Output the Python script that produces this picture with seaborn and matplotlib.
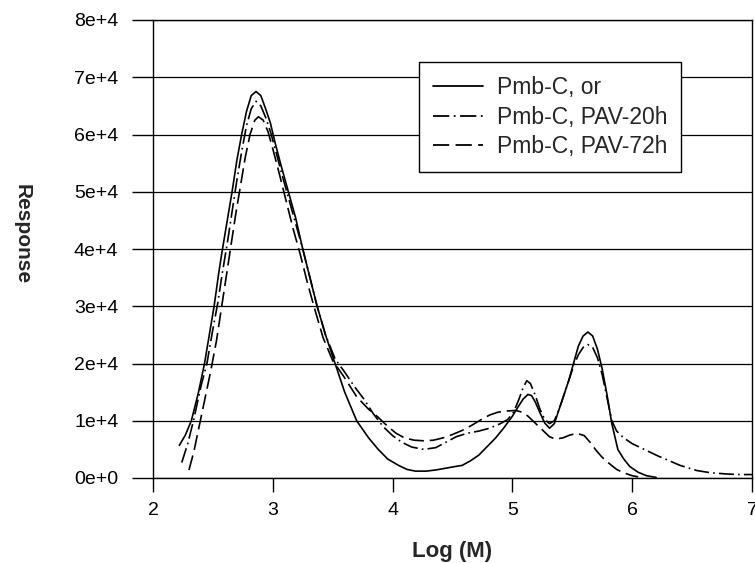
import matplotlib
matplotlib.use("Agg")
import matplotlib.pyplot as plt
import seaborn as sns
import pandas as pd

# ---------------- data ----------------
series_names = ["Pmb-C, or", "Pmb-C, PAV-20h", "Pmb-C, PAV-72h"]

x_or = [2.22, 2.27, 2.32, 2.38, 2.43, 2.47, 2.51, 2.55, 2.58, 2.62, 2.66, 2.70,
        2.74, 2.78, 2.82, 2.86, 2.90, 2.94, 2.98, 3.02, 3.07, 3.13, 3.19, 3.25,
        3.31, 3.37, 3.44, 3.52, 3.60, 3.70, 3.80, 3.88, 3.96, 4.05, 4.12, 4.19,
        4.28, 4.36, 4.44, 4.52, 4.58, 4.65, 4.72, 4.79, 4.86, 4.93, 5.00, 5.05,
        5.09, 5.13, 5.16, 5.19, 5.23, 5.27, 5.31, 5.35, 5.39, 5.43, 5.47, 5.51,
        5.55, 5.59, 5.63, 5.67, 5.71, 5.75, 5.79, 5.83, 5.88, 5.93, 5.98, 6.05,
        6.12, 6.20]
y_or = [5700, 7500, 10000, 15000, 20000, 25000, 30000, 36000, 40000, 45000,
        50000, 55500, 60000, 64000, 66800, 67500, 66800, 64500, 62000, 58500,
        54500, 50000, 45500, 40000, 35000, 30000, 25000, 20000, 15000, 10000,
        7000, 5000, 3300, 2200, 1500, 1200, 1200, 1400, 1700, 2000, 2200, 3000,
        4000, 5500, 7000, 8800, 10800, 12500, 13800, 14600, 14400, 13300, 11400,
        9600, 8700, 9500, 12000, 14500, 17000, 20000, 23000, 24800, 25500,
        24800, 22500, 19000, 14500, 9500, 5000, 3300, 2000, 1000, 400, 100]

x_20h = [2.24, 2.29, 2.34, 2.40, 2.45, 2.50, 2.54, 2.58, 2.62, 2.66, 2.70, 2.74,
         2.78, 2.82, 2.86, 2.90, 2.94, 2.98, 3.02, 3.07, 3.13, 3.19, 3.25, 3.31,
         3.37, 3.44, 3.52, 3.60, 3.68, 3.76, 3.84, 3.92, 4.00, 4.08, 4.16, 4.26,
         4.36, 4.45, 4.53, 4.62, 4.72, 4.81, 4.90, 4.96, 5.01, 5.05, 5.09, 5.12,
         5.15, 5.19, 5.23, 5.27, 5.31, 5.35, 5.39, 5.43, 5.47, 5.51, 5.55, 5.59,
         5.63, 5.67, 5.71, 5.75, 5.79, 5.83, 5.87, 5.93, 6.00, 6.08, 6.15, 6.22,
         6.30, 6.40, 6.54, 6.66, 6.79, 6.90, 7.00]
y_20h = [2700, 6000, 10200, 16000, 20000, 26000, 30500, 36000, 41000, 46500,
         52000, 57000, 61500, 64500, 65800, 65000, 63000, 60500, 57500, 53500,
         49000, 44500, 40000, 35000, 30000, 25000, 20800, 18500, 16000, 13800,
         11200, 9000, 7400, 6200, 5400, 5000, 5300, 6300, 7200, 7800, 8200,
         8700, 9500, 10200, 11500, 13500, 15800, 17000, 16500, 14500, 12000,
         10200, 9500, 10000, 12000, 14500, 17000, 19500, 21500, 22800, 23300,
         22800, 21000, 18000, 14000, 10000, 8200, 7000, 6000, 5200, 4500, 3800,
         3100, 2200, 1300, 900, 700, 600, 600]

x_72h = [2.30, 2.34, 2.38, 2.43, 2.48, 2.53, 2.57, 2.61, 2.65, 2.69, 2.73, 2.77,
         2.81, 2.85, 2.88, 2.92, 2.96, 3.00, 3.05, 3.11, 3.17, 3.23, 3.29, 3.35,
         3.42, 3.50, 3.60, 3.70, 3.80, 3.88, 3.96, 4.03, 4.10, 4.18, 4.26, 4.34,
         4.42, 4.50, 4.58, 4.66, 4.74, 4.81, 4.88, 4.95, 5.03, 5.08, 5.13, 5.18,
         5.23, 5.27, 5.31, 5.36, 5.42, 5.48, 5.54, 5.60, 5.65, 5.70, 5.75, 5.81,
         5.87, 5.93, 6.00, 6.05]
y_72h = [1400, 4500, 8500, 13500, 18500, 24000, 29500, 35000, 40500, 46000,
         51000, 56000, 60000, 62500, 63100, 62500, 60500, 57500, 53500, 48500,
         43500, 39000, 34000, 29500, 24500, 20500, 17500, 14200, 12000, 10600,
         9000, 7800, 7000, 6600, 6500, 6600, 7000, 7600, 8300, 9200, 10200,
         11000, 11500, 11700, 11800, 11500, 10800, 9800, 8800, 8000, 7200, 6800,
         7000, 7500, 7800, 7400, 6200, 4800, 3600, 2500, 1500, 900, 400, 200]

x_ticks = [2, 3, 4, 5, 6, 7]
y_ticks = [0, 10000, 20000, 30000, 40000, 50000, 60000, 70000, 80000]
y_tick_labels = ["0e+0", "1e+4", "2e+4", "3e+4", "4e+4", "5e+4", "6e+4", "7e+4", "8e+4"]

# ---------------- build long table ----------------
frames = []
for name, xs, ys in [(series_names[0], x_or, y_or),
                     (series_names[1], x_20h, y_20h),
                     (series_names[2], x_72h, y_72h)]:
    frames.append(pd.DataFrame({"logM": xs, "resp": ys, "series": name}))
df = pd.concat(frames, ignore_index=True)

# ---------------- style ----------------
sns.set_style("ticks")
plt.rcParams["font.family"] = ["Liberation Sans", "DejaVu Sans"]

W, H = 755, 563
fig = plt.figure(figsize=(W / 100, H / 100), dpi=100)
ax_l, ax_r, ax_t, ax_b = 153, 752, 20, 478
ax = fig.add_axes([ax_l / W, 1 - ax_b / H, (ax_r - ax_l) / W, (ax_b - ax_t) / H])

dash_map = {series_names[0]: "",
            series_names[1]: (9, 2.5, 1, 2.5),
            series_names[2]: (9, 3.5)}

sns.lineplot(data=df, x="logM", y="resp", style="series", dashes=dash_map,
             color="black", linewidth=1.2, sort=False, estimator=None, ax=ax,
             style_order=series_names)

ax.set_xlim(2, 7)
ax.set_ylim(0, 80000)
ax.set_xticks(x_ticks)
ax.set_xticklabels([str(t) for t in x_ticks])
ax.set_yticks(y_ticks)
ax.set_yticklabels(y_tick_labels)
ax.tick_params(axis="both", labelsize=14, colors="black", width=1)
ax.tick_params(axis="y", length=15, pad=10)
ax.tick_params(axis="x", length=10, pad=7)

ax.yaxis.grid(True, color="black", linewidth=0.9)
ax.xaxis.grid(False)
ax.set_axisbelow(True)
for side in ["left", "bottom", "right", "top"]:
    ax.spines[side].set_visible(True)
    ax.spines[side].set_color("black")
    ax.spines[side].set_linewidth(1.0)

ax.set_xlabel("Log (M)", fontsize=16, fontweight="bold")
ax.xaxis.label.set_va("center")
ax.xaxis.set_label_coords(0.5, (ax_b - 551) / (ax_b - ax_t))
ax.set_ylabel("Response", fontsize=15, fontweight="bold", rotation=270)
ax.yaxis.label.set_va("center")
ax.yaxis.set_label_coords((22 - ax_l) / (ax_r - ax_l), (ax_b - 234) / (ax_b - ax_t))

leg = ax.legend(loc="upper left",
                bbox_to_anchor=((419 - ax_l) / (ax_r - ax_l), (ax_b - 62) / (ax_b - ax_t)),
                frameon=True, fancybox=False, fontsize=16.5, handlelength=2.2,
                handletextpad=0.6, borderpad=0.6, labelspacing=0.3,
                borderaxespad=0, title=None)
leg.get_frame().set_edgecolor("black")
leg.get_frame().set_linewidth(1.0)
leg.get_frame().set_facecolor("white")
leg.get_frame().set_alpha(1)
for h in leg.get_lines():
    h.set_linewidth(1.3)

fig.savefig("out.png", dpi=100, facecolor="white")
